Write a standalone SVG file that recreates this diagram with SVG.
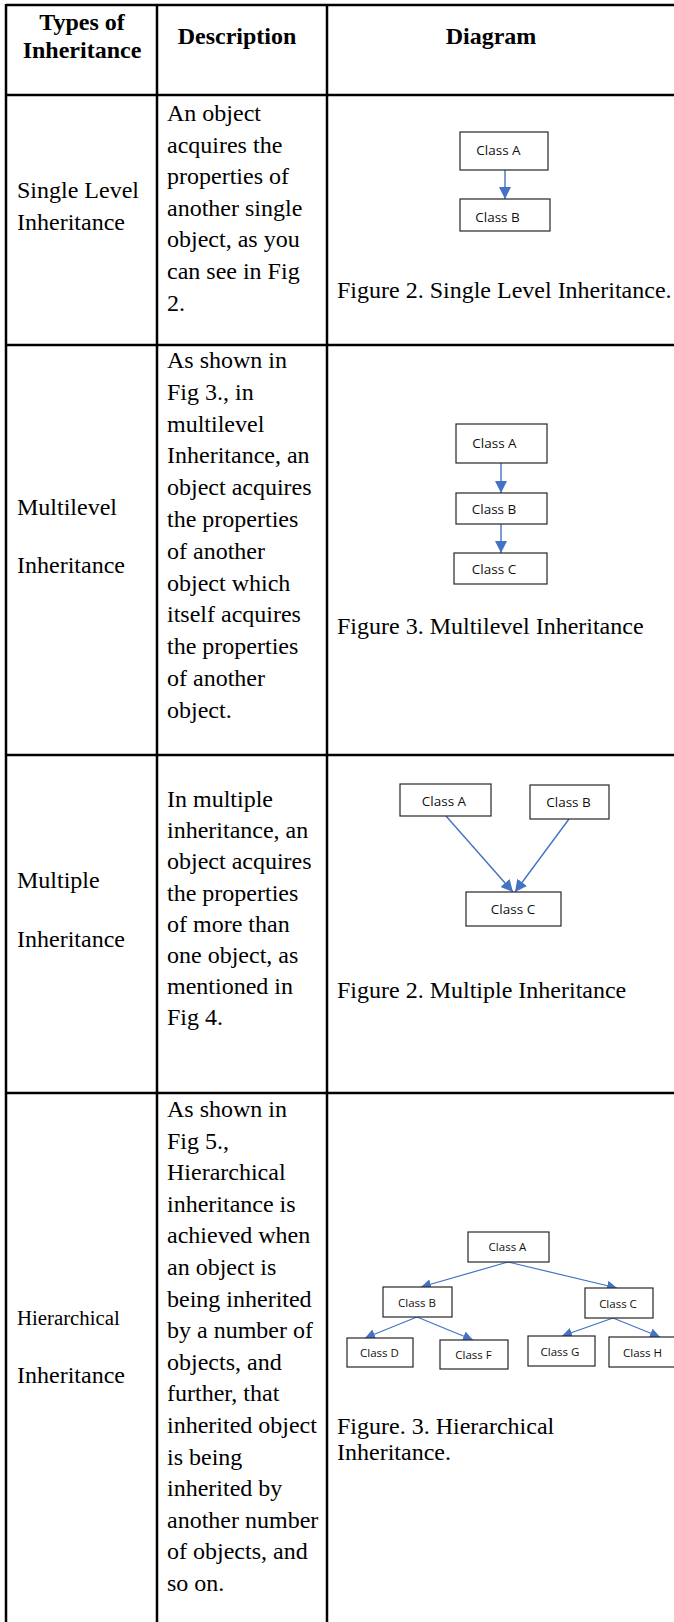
<svg xmlns="http://www.w3.org/2000/svg" width="674" height="1622" viewBox="0 0 674 1622">
<style>
.grid{stroke:#000;stroke-width:2.5;fill:none}
.t{font-family:"Liberation Serif","Times New Roman",serif;font-size:24px;fill:#000}
.h{font-family:"Liberation Serif","Times New Roman",serif;font-size:24px;font-weight:bold;fill:#000;text-anchor:middle}
.box{fill:#fff;stroke:#262626;stroke-width:1.2}
.lbl{font-family:"Open Sans","Noto Sans",sans-serif;font-size:13.5px;fill:#111;text-anchor:middle}
.lbs{font-family:"Open Sans","Noto Sans",sans-serif;font-size:11.5px;fill:#111;text-anchor:middle}
.arr{stroke:#4472C4;stroke-width:1.4;fill:none;marker-end:url(#ah)}
.arrs{stroke:#4472C4;stroke-width:1.2;fill:none;marker-end:url(#ahs)}
</style>
<defs>
<marker id="ah" markerUnits="userSpaceOnUse" markerWidth="13" markerHeight="13" refX="12" refY="6" orient="auto">
<path d="M0,0 L12,6 L0,12 z" fill="#4472C4"/>
</marker>
<marker id="ahs" markerUnits="userSpaceOnUse" markerWidth="11" markerHeight="11" refX="10" refY="5" orient="auto">
<path d="M0,0 L10,5 L0,10 z" fill="#4472C4"/>
</marker>
</defs>
<rect width="674" height="1622" fill="#fff"/>
<g id="table">
<line class="grid" x1="6" y1="5" x2="676" y2="5"/>
<line class="grid" x1="6" y1="95" x2="676" y2="95"/>
<line class="grid" x1="6" y1="345" x2="676" y2="345"/>
<line class="grid" x1="6" y1="755" x2="676" y2="755"/>
<line class="grid" x1="6" y1="1093" x2="676" y2="1093"/>
<line class="grid" x1="6" y1="4" x2="6" y2="1622"/>
<line class="grid" x1="157" y1="4" x2="157" y2="1622"/>
<line class="grid" x1="327" y1="4" x2="327" y2="1622"/>
</g>
<g id="header">
<text class="h" x="82" y="30">Types of</text>
<text class="h" x="82" y="58">Inheritance</text>
<text class="h" x="237" y="44">Description</text>
<text class="h" x="491" y="44">Diagram</text>
</g>
<g id="row1-text">
<text class="t" x="17" y="198">Single Level</text>
<text class="t" x="17" y="230">Inheritance</text>
<text class="t" x="167">
<tspan x="167" y="121">An object</tspan>
<tspan x="167" y="152.6">acquires the</tspan>
<tspan x="167" y="184.2">properties of</tspan>
<tspan x="167" y="215.8">another single</tspan>
<tspan x="167" y="247.4">object, as you</tspan>
<tspan x="167" y="279">can see in Fig</tspan>
<tspan x="167" y="310.6">2.</tspan>
</text>
<text class="t" x="337" y="298">Figure 2. Single Level Inheritance.</text>
</g>
<g id="row2-text">
<text class="t" x="17" y="515">Multilevel</text>
<text class="t" x="17" y="573">Inheritance</text>
<text class="t">
<tspan x="167" y="368">As shown in</tspan>
<tspan x="167" y="399.8">Fig 3., in</tspan>
<tspan x="167" y="431.6">multilevel</tspan>
<tspan x="167" y="463.4">Inheritance, an</tspan>
<tspan x="167" y="495.2">object acquires</tspan>
<tspan x="167" y="527">the properties</tspan>
<tspan x="167" y="558.8">of another</tspan>
<tspan x="167" y="590.6">object which</tspan>
<tspan x="167" y="622.4">itself acquires</tspan>
<tspan x="167" y="654.2">the properties</tspan>
<tspan x="167" y="686">of another</tspan>
<tspan x="167" y="717.8">object.</tspan>
</text>
<text class="t" x="337" y="634">Figure 3. Multilevel Inheritance</text>
</g>
<g id="row3-text">
<text class="t" x="17" y="888">Multiple</text>
<text class="t" x="17" y="947">Inheritance</text>
<text class="t">
<tspan x="167" y="807">In multiple</tspan>
<tspan x="167" y="838.2">inheritance, an</tspan>
<tspan x="167" y="869.4">object acquires</tspan>
<tspan x="167" y="900.6">the properties</tspan>
<tspan x="167" y="931.8">of more than</tspan>
<tspan x="167" y="963">one object, as</tspan>
<tspan x="167" y="994.2">mentioned in</tspan>
<tspan x="167" y="1025.4">Fig 4.</tspan>
</text>
<text class="t" x="337" y="998">Figure 2. Multiple Inheritance</text>
</g>
<g id="row4-text">
<text class="t" x="17" y="1325" style="font-size:20.8px">Hierarchical</text>
<text class="t" x="17" y="1383">Inheritance</text>
<text class="t">
<tspan x="167" y="1117">As shown in</tspan>
<tspan x="167" y="1148.6">Fig 5.,</tspan>
<tspan x="167" y="1180.2">Hierarchical</tspan>
<tspan x="167" y="1211.8">inheritance is</tspan>
<tspan x="167" y="1243.4">achieved when</tspan>
<tspan x="167" y="1275">an object is</tspan>
<tspan x="167" y="1306.6">being inherited</tspan>
<tspan x="167" y="1338.2">by a number of</tspan>
<tspan x="167" y="1369.8">objects, and</tspan>
<tspan x="167" y="1401.4">further, that</tspan>
<tspan x="167" y="1433">inherited object</tspan>
<tspan x="167" y="1464.6">is being</tspan>
<tspan x="167" y="1496.2">inherited by</tspan>
<tspan x="167" y="1527.8">another number</tspan>
<tspan x="167" y="1559.4">of objects, and</tspan>
<tspan x="167" y="1591">so on.</tspan>
</text>
<text class="t" x="337" y="1434">Figure. 3. Hierarchical</text>
<text class="t" x="337" y="1460">Inheritance.</text>
</g>
<g id="connectors">
<line class="arr" x1="505" y1="170" x2="505" y2="199"/>
<line class="arr" x1="501" y1="463" x2="501" y2="493"/>
<line class="arr" x1="501" y1="524" x2="501" y2="553"/>
<line class="arr" x1="446" y1="816" x2="513" y2="892"/>
<line class="arr" x1="569" y1="819" x2="515" y2="892"/>
<line class="arrs" x1="508" y1="1262" x2="421" y2="1287"/>
<line class="arrs" x1="508" y1="1262" x2="617" y2="1288"/>
<line class="arrs" x1="417" y1="1317" x2="365" y2="1338"/>
<line class="arrs" x1="417" y1="1317" x2="473" y2="1340"/>
<line class="arrs" x1="613" y1="1318" x2="562" y2="1336"/>
<line class="arrs" x1="613" y1="1318" x2="660" y2="1337"/>
</g>
<g id="s-classA"><rect class="box" x="460" y="132" width="88" height="38"/><text class="lbl" x="498.5" y="155">Class A</text></g>
<g id="s-classB"><rect class="box" x="460" y="199" width="90" height="32"/><text class="lbl" x="497.5" y="222">Class B</text></g>
<g id="m-classA"><rect class="box" x="456" y="424" width="91" height="39"/><text class="lbl" x="494.5" y="448">Class A</text></g>
<g id="m-classB"><rect class="box" x="456" y="493" width="91" height="31"/><text class="lbl" x="494" y="514">Class B</text></g>
<g id="m-classC"><rect class="box" x="454" y="553" width="93" height="31"/><text class="lbl" x="494" y="574">Class C</text></g>
<g id="mi-classA"><rect class="box" x="400" y="784" width="91" height="32"/><text class="lbl" x="444" y="806">Class A</text></g>
<g id="mi-classB"><rect class="box" x="530" y="785" width="79" height="34"/><text class="lbl" x="568.5" y="807">Class B</text></g>
<g id="mi-classC"><rect class="box" x="466" y="892" width="95" height="34"/><text class="lbl" x="513" y="914">Class C</text></g>
<g id="h-classA"><rect class="box" x="468" y="1232" width="81" height="30"/><text class="lbs" x="507.5" y="1251">Class A</text></g>
<g id="h-classB"><rect class="box" x="383" y="1287" width="69" height="30"/><text class="lbs" x="417" y="1307">Class B</text></g>
<g id="h-classC"><rect class="box" x="585" y="1288" width="68" height="30"/><text class="lbs" x="618" y="1308">Class C</text></g>
<g id="h-classD"><rect class="box" x="347" y="1338" width="66" height="29"/><text class="lbs" x="379.5" y="1357">Class D</text></g>
<g id="h-classF"><rect class="box" x="440" y="1340" width="68" height="29"/><text class="lbs" x="473.5" y="1359">Class F</text></g>
<g id="h-classG"><rect class="box" x="528" y="1336" width="67" height="30"/><text class="lbs" x="560" y="1356">Class G</text></g>
<g id="h-classH"><rect class="box" x="609" y="1337" width="67" height="30"/><text class="lbs" x="642.5" y="1357">Class H</text></g>
</svg>
